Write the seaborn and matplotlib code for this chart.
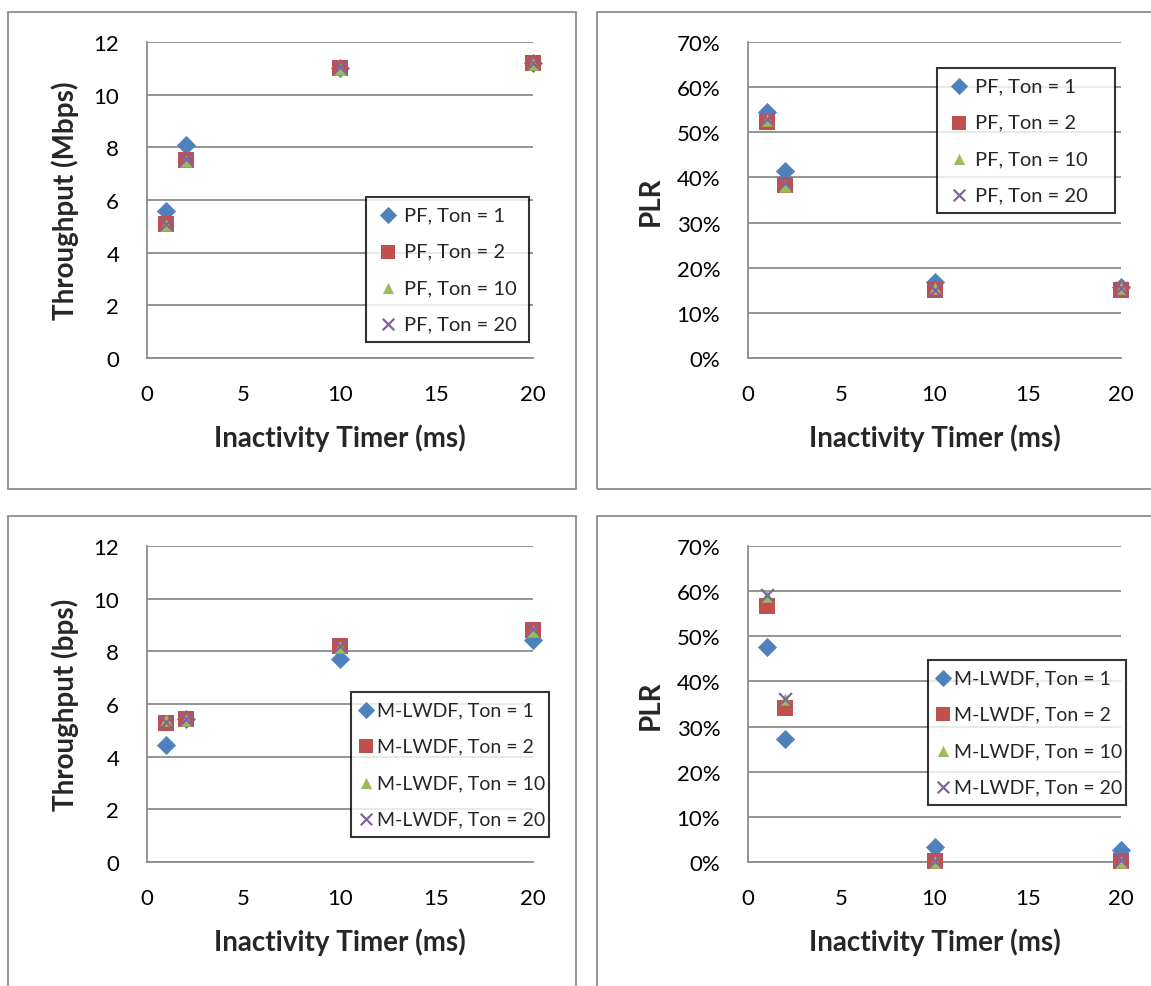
import numpy as np
import pandas as pd
import matplotlib
matplotlib.use("Agg")
import matplotlib.pyplot as plt
from matplotlib.patches import Rectangle
from matplotlib.ticker import FuncFormatter
import seaborn as sns

# ---------------- data ----------------
timer = [1, 2, 10, 20]
ton_labels = ["Ton = 1", "Ton = 2", "Ton = 10", "Ton = 20"]

pf_tput_ton1 = [5.57, 8.10, 11.01, 11.20]
pf_tput_ton2 = [5.10, 7.53, 11.00, 11.20]
pf_tput_ton10 = [5.04, 7.50, 10.96, 11.18]
pf_tput_ton20 = [5.10, 7.57, 11.04, 11.20]

pf_plr_ton1 = [0.545, 0.414, 0.168, 0.157]
pf_plr_ton2 = [0.522, 0.383, 0.151, 0.151]
pf_plr_ton10 = [0.528, 0.382, 0.155, 0.155]
pf_plr_ton20 = [0.529, 0.387, 0.151, 0.156]

ml_tput_ton1 = [4.43, 5.42, 7.72, 8.42]
ml_tput_ton2 = [5.28, 5.42, 8.20, 8.81]
ml_tput_ton10 = [5.38, 5.38, 8.18, 8.78]
ml_tput_ton20 = [5.32, 5.42, 8.20, 8.85]

ml_plr_ton1 = [0.477, 0.273, 0.033, 0.026]
ml_plr_ton2 = [0.566, 0.341, 0.002, 0.0015]
ml_plr_ton10 = [0.590, 0.360, 0.000, 0.000]
ml_plr_ton20 = [0.592, 0.361, 0.002, 0.004]

colors = ["#4F81BD", "#C0504D", "#9BBB59", "#8064A2"]
markers = ["D", "s", "^", "x"]
sizes = [95, 120, 80, 85]

sns.set_style("white")
plt.rcParams["font.family"] = ["Lato", "DejaVu Sans"]

fig = plt.figure(figsize=(11.51, 9.87), dpi=100)

# chart-area frames (figure coords)
W, H = 1151.0, 987.0
frame_col = "#8c8c8c"
for (x0, y0, x1, y1) in [(8, 13, 576, 490), (597, 13, 1160, 490),
                         (8, 517, 576, 1000), (597, 517, 1160, 1000)]:
    fig.patches.append(Rectangle((x0 / W, 1 - y1 / H), (x1 - x0) / W, (y1 - y0) / H,
                                 transform=fig.transFigure, facecolor="none",
                                 edgecolor=frame_col, linewidth=1.3, zorder=0))

def axes_rect(l, t, r, b):
    return [l / W, 1 - b / H, (r - l) / W, (b - t) / H]

panels = [
    dict(rect=axes_rect(147, 43, 533, 359), series=[pf_tput_ton1, pf_tput_ton2, pf_tput_ton10, pf_tput_ton20],
         prefix="PF", ylim=(0, 12), yticks=[0, 2, 4, 6, 8, 10, 12], ylabel="Throughput (Mbps)", pct=False,
         legend_box=(366, 198, 529, 347), ylab_x=65, hl=1.2, htp=0.2, lfs=14.5, ls=0.95),
    dict(rect=axes_rect(748, 43, 1121, 359), series=[pf_plr_ton1, pf_plr_ton2, pf_plr_ton10, pf_plr_ton20],
         prefix="PF", ylim=(0, 0.7), yticks=np.arange(0, 0.71, 0.1), ylabel="PLR", pct=True,
         legend_box=(937, 69, 1115, 222), ylab_x=651, hl=1.2, htp=0.2, lfs=14.5, ls=0.95),
    dict(rect=axes_rect(147, 547, 533, 863), series=[ml_tput_ton1, ml_tput_ton2, ml_tput_ton10, ml_tput_ton20],
         prefix="M-LWDF", ylim=(0, 12), yticks=[0, 2, 4, 6, 8, 10, 12], ylabel="Throughput (bps)", pct=False,
         legend_box=(351, 693, 549, 850), ylab_x=65, hl=0.6, htp=0.25, lfs=14, ls=1.0),
    dict(rect=axes_rect(748, 547, 1121, 863), series=[ml_plr_ton1, ml_plr_ton2, ml_plr_ton10, ml_plr_ton20],
         prefix="M-LWDF", ylim=(0, 0.7), yticks=np.arange(0, 0.71, 0.1), ylabel="PLR", pct=True,
         legend_box=(928, 661, 1126, 809), ylab_x=651, hl=0.6, htp=0.25, lfs=14, ls=1.0),
]

grid_col = "#8c8c8c"
for p in panels:
    ax = fig.add_axes(p["rect"])
    ax.set_facecolor("none")
    for vals, lab, c, m, s in zip(p["series"], ton_labels, colors, markers, sizes):
        df = pd.DataFrame({"x": timer, "y": vals})
        lw = 1.6 if m == "x" else 0
        sns.scatterplot(data=df, x="x", y="y", ax=ax, marker=m, s=s, color=c,
                        edgecolor=c if m != "x" else None, linewidth=lw,
                        label=f"{p['prefix']}, {lab}", clip_on=False, zorder=3)
    ax.set_xlim(0, 20)
    ax.set_ylim(*p["ylim"])
    ax.set_xticks([0, 5, 10, 15, 20])
    ax.set_yticks(p["yticks"])
    if p["pct"]:
        ax.yaxis.set_major_formatter(FuncFormatter(lambda v, pos: f"{int(round(v * 100))}%"))
    ax.grid(axis="y", color=grid_col, linewidth=1.3)
    ax.grid(axis="x", visible=False)
    ax.set_axisbelow(True)
    for sp in ["top", "right"]:
        ax.spines[sp].set_visible(False)
    for sp in ["left", "bottom"]:
        ax.spines[sp].set_color(grid_col)
        ax.spines[sp].set_linewidth(1.3)
    ax.tick_params(axis="both", colors=grid_col, length=7, width=1.3, labelcolor="black", labelsize=16)
    ax.tick_params(axis="y", pad=13)
    ax.tick_params(axis="x", pad=12)
    ax.set_xlabel("Inactivity Timer (ms)", fontsize=20, fontweight="bold")
    ax.set_ylabel(p["ylabel"], fontsize=20, fontweight="bold")
    l, t, r, b = p["legend_box"]
    ax_l = p["rect"][0] * W
    ax_w = p["rect"][2] * W
    ax_b = (1 - p["rect"][1]) * H
    ax_h = p["rect"][3] * H
    ax.yaxis.label.set_verticalalignment("center")
    ax.yaxis.set_label_coords((p["ylab_x"] - ax_l) / ax_w, 0.5)
    ax.xaxis.label.set_verticalalignment("center")
    ax.xaxis.set_label_coords(0.5, -0.25)
    bx0 = (l - ax_l) / ax_w
    bw = (r - l) / ax_w
    by0 = (ax_b - b) / ax_h
    bh = (b - t) / ax_h
    leg = ax.legend(loc="upper left", bbox_to_anchor=(bx0, by0, bw, bh), mode="expand",
                    borderaxespad=0.0,
                    frameon=True, fancybox=False, fontsize=p["lfs"], labelspacing=p["ls"],
                    handletextpad=p["htp"], handlelength=p["hl"], borderpad=0.47, markerscale=0.9)
    leg.get_frame().set_edgecolor("black")
    leg.get_frame().set_linewidth(1.5)
    leg.set_zorder(5)

fig.savefig("out.png", dpi=100)
